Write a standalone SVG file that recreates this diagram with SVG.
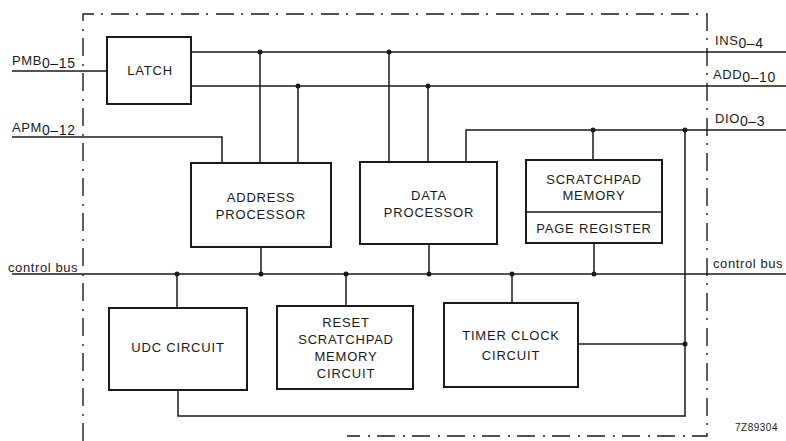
<svg xmlns="http://www.w3.org/2000/svg" width="786" height="441" viewBox="0 0 786 441">
<style>
.bx{fill:#fff;stroke:#1a1a1a;stroke-width:2}
.ln{fill:none;stroke:#1a1a1a;stroke-width:1.5}
.bd{fill:none;stroke:#1a1a1a;stroke-width:1.4;stroke-dasharray:18 7 2 8}
.dot{fill:#1a1a1a}
text{font-family:"Liberation Sans",Arial,sans-serif;fill:#1a1a1a}
.bt{font-size:13px;letter-spacing:0.8px;text-anchor:middle}
.lb{font-size:13px;letter-spacing:0.6px}
.sb{font-size:14px;letter-spacing:0.6px}
</style>
<rect width="786" height="441" fill="#fff"/>
<g id="border">
<path class="bd" d="M83,441 V14 H707 V436 H347"/>
</g>
<g id="connectors">
<path class="ln" d="M12,71 H107"/>
<path class="ln" d="M191,52 H786"/>
<path class="ln" d="M191,86 H786"/>
<path class="ln" d="M466,162 V130 H786"/>
<path class="ln" d="M12,137 H222 V163"/>
<path class="ln" d="M260,52 V163"/>
<path class="ln" d="M298,86 V163"/>
<path class="ln" d="M389,52 V162"/>
<path class="ln" d="M428,86 V162"/>
<path class="ln" d="M593,130 V160"/>
<path class="ln" d="M12,274 H786"/>
<path class="ln" d="M261,247 V274"/>
<path class="ln" d="M429,244 V274"/>
<path class="ln" d="M594,243 V274"/>
<path class="ln" d="M177,274 V308"/>
<path class="ln" d="M346,274 V306"/>
<path class="ln" d="M512,274 V303"/>
<path class="ln" d="M685,130 V416 H178 V390"/>
<path class="ln" d="M578,344 H685"/>
<circle class="dot" cx="260" cy="52" r="2.5"/>
<circle class="dot" cx="389" cy="52" r="2.5"/>
<circle class="dot" cx="298" cy="86" r="2.5"/>
<circle class="dot" cx="428" cy="86" r="2.5"/>
<circle class="dot" cx="593" cy="130" r="2.5"/>
<circle class="dot" cx="685" cy="130" r="2.5"/>
<circle class="dot" cx="177" cy="274" r="2.5"/>
<circle class="dot" cx="261" cy="274" r="2.5"/>
<circle class="dot" cx="346" cy="274" r="2.5"/>
<circle class="dot" cx="429" cy="274" r="2.5"/>
<circle class="dot" cx="512" cy="274" r="2.5"/>
<circle class="dot" cx="594" cy="274" r="2.5"/>
<circle class="dot" cx="685" cy="344" r="2.5"/>
</g>
<g id="latch">
<rect class="bx" x="107" y="37" width="84" height="67"/>
<text class="bt" x="150" y="75">LATCH</text>
</g>
<g id="address-processor">
<rect class="bx" x="191" y="163" width="140" height="84"/>
<text class="bt" x="261" y="202">ADDRESS</text>
<text class="bt" x="261" y="219">PROCESSOR</text>
</g>
<g id="data-processor">
<rect class="bx" x="360" y="162" width="137" height="82"/>
<text class="bt" x="429" y="200">DATA</text>
<text class="bt" x="429" y="217">PROCESSOR</text>
</g>
<g id="scratchpad-memory">
<rect class="bx" x="526" y="160" width="136" height="83"/>
<line class="ln" x1="526" y1="212" x2="662" y2="212"/>
<text class="bt" x="594" y="184">SCRATCHPAD</text>
<text class="bt" x="594" y="200">MEMORY</text>
<text class="bt" x="594" y="233">PAGE REGISTER</text>
</g>
<g id="udc-circuit">
<rect class="bx" x="109" y="308" width="138" height="82"/>
<text class="bt" x="178" y="352">UDC CIRCUIT</text>
</g>
<g id="reset-circuit">
<rect class="bx" x="277" y="306" width="136" height="83"/>
<text class="bt" x="346" y="327">RESET</text>
<text class="bt" x="346" y="344">SCRATCHPAD</text>
<text class="bt" x="346" y="361">MEMORY</text>
<text class="bt" x="346" y="378">CIRCUIT</text>
</g>
<g id="timer-clock">
<rect class="bx" x="444" y="303" width="134" height="84"/>
<text class="bt" x="511" y="340">TIMER CLOCK</text>
<text class="bt" x="511" y="360">CIRCUIT</text>
</g>
<g id="labels">
<text class="lb" x="12" y="65">PMB<tspan class="sb" dy="3">0–15</tspan></text>
<text class="lb" x="12" y="132">APM<tspan class="sb" dy="3">0–12</tspan></text>
<text class="lb" x="715" y="45">INS<tspan class="sb" dy="3">0–4</tspan></text>
<text class="lb" x="713" y="79">ADD<tspan class="sb" dy="3">0–10</tspan></text>
<text class="lb" x="715" y="123">DIO<tspan class="sb" dy="3">0–3</tspan></text>
<text class="lb" x="8" y="272">control bus</text>
<text class="lb" x="713" y="268">control bus</text>
<text x="735" y="431" style="font-size:10px;letter-spacing:0.5px">7Z89304</text>
</g>
</svg>
